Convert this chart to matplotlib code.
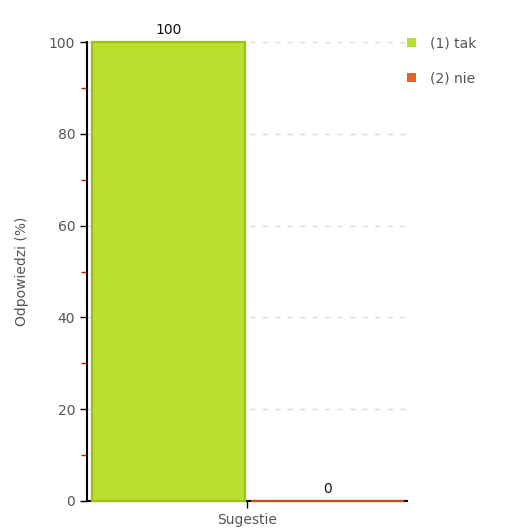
import numpy as np
from matplotlib import pyplot as plt
from matplotlib.patches import Patch
from matplotlib.ticker import MultipleLocator

categories = ['Sugestie']
labels = ['(1) tak', '(2) nie']
values = [100, 0]
colors = ['#badf2f', '#e3632a']
edges = ['#9cbf1a', '#c4501c']

plt.rcParams['font.family'] = ['DejaVu Sans']

fig = plt.figure(figsize=(5.09, 5.32), dpi=100)
ax = fig.add_axes([0.171, 0.0583, 0.629, 0.8627])

# two bars side by side around the single category tick
pos = np.array([-0.49, 0.5])
for p, v, c, e in zip(pos, values, colors, edges):
    ax.bar(p, v, width=0.955, color=c, edgecolor=e, linewidth=1.6, zorder=3, clip_on=False)
    ax.text(p, v + 1.0, str(v), ha='center', va='bottom', fontsize=10, color='#111111')

ax.set_xlim(-1.0, 1.0)
ax.set_ylim(0, 100)
ax.set_xticks([0])
ax.set_xticklabels(categories, fontsize=10, color='#555555')

ax.yaxis.set_major_locator(MultipleLocator(20))
ax.yaxis.set_minor_locator(MultipleLocator(10))
ax.tick_params(axis='y', which='major', length=5, width=1, color='black', labelsize=10, labelcolor='#555555')
ax.tick_params(axis='y', which='minor', length=4, width=1, color='red')
ax.tick_params(axis='x', length=5, width=1, color='black')
ax.set_ylabel('Odpowiedzi (%)', fontsize=10, color='#555555', labelpad=14)

ax.grid(axis='y', which='major', color='#dddddd', linestyle=(0, (4, 5)), linewidth=1, zorder=0)
ax.set_axisbelow(True)

for s in ['top', 'right']:
    ax.spines[s].set_visible(False)
ax.spines['left'].set_linewidth(1.5)
ax.spines['bottom'].set_linewidth(1.5)

handles = [Patch(facecolor=c, edgecolor='none') for c in colors]
fig.legend(handles, labels, loc='upper left', bbox_to_anchor=(0.775, 0.955),
           frameon=False, fontsize=10, handlelength=0.65, handleheight=0.65,
           handletextpad=1.0, labelspacing=1.5, labelcolor='#555555')

fig.savefig('out.png', dpi=100)
